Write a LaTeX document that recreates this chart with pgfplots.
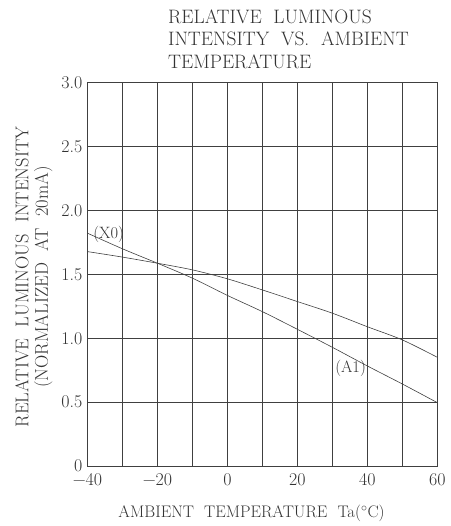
\documentclass[border=0pt]{standalone}
\usepackage{pgfplots}
\pgfplotsset{compat=1.18}
\begin{document}
\begin{tikzpicture}
\useasboundingbox (0,0) rectangle (451bp,526bp);
\begin{axis}[
  at={(87.5bp,60bp)}, anchor=south west,
  scale only axis, width=349.8bp, height=383.3bp,
  xmin=-40, xmax=60, ymin=0, ymax=3,
  xtick={-40,-30,...,60},
  xticklabels={−40,,−20,,0,,20,,40,,60},
  ytick={0,0.5,1,1.5,2,2.5,3},
  yticklabels={0,0.5,1.0,1.5,2.0,2.5,3.0},
  major tick length=0pt,
  grid=major,
  grid style={black!75, line width=0.6bp},
  axis line style={black!75, line width=0.6bp},
  tick label style={font=\fontsize{18}{20}\selectfont, black!80},
  xticklabel style={inner sep=0pt, anchor=north, yshift=-7.5bp},
  yticklabel style={inner sep=0pt, anchor=east, xshift=-5bp},
  every axis title/.style={at={(0.23,1.1915)}, anchor=north west, inner sep=0pt,
    align=left, font=\fontsize{19.5}{22.8}\selectfont, black!80},
  every axis x label/.style={at={(0.469,-0.135)}, anchor=base, inner sep=0pt,
    font=\fontsize{16.8}{20}\selectfont, black!80},
  every axis y label/.style={at={(-0.153,0.493)}, rotate=90, anchor=center,
    align=center, inner sep=0pt, font=\fontsize{18.5}{19.5}\selectfont, black!80},
  title={RELATIVE~~LUMINOUS\\INTENSITY~~VS.~~AMBIENT\\TEMPERATURE},
  xlabel={AMBIENT~~TEMPERATURE~~Ta($^\circ$C)},
  ylabel={RELATIVE~~LUMINOUS~~INTENSITY\\(NORMALIZED~~AT~~20mA)},
  clip=false,
]
% steeper curve
\addplot[black!75, line width=0.6bp, smooth] coordinates {
(-40,1.822) (-30,1.700) (-20,1.587) (-10,1.470) (0,1.335) (10,1.208)
(20,1.070) (30,0.929) (40,0.783) (50,0.642) (60,0.496)
};
% flatter curve
\addplot[black!75, line width=0.6bp, smooth] coordinates {
(-40,1.678) (-30,1.635) (-20,1.587) (-10,1.535) (0,1.465) (10,1.378)
(20,1.287) (30,1.196) (40,1.090) (50,0.987) (60,0.851)
};
\node[anchor=west, inner sep=0pt, font=\fontsize{16.5}{18}\selectfont, black!80]
  at (axis cs:-38.4,1.81) {(X0)};
\node[inner sep=0pt, font=\fontsize{16.5}{18}\selectfont, black!80]
  at (axis cs:35.2,0.765) {(A1)};
\end{axis}
\end{tikzpicture}
\end{document}
